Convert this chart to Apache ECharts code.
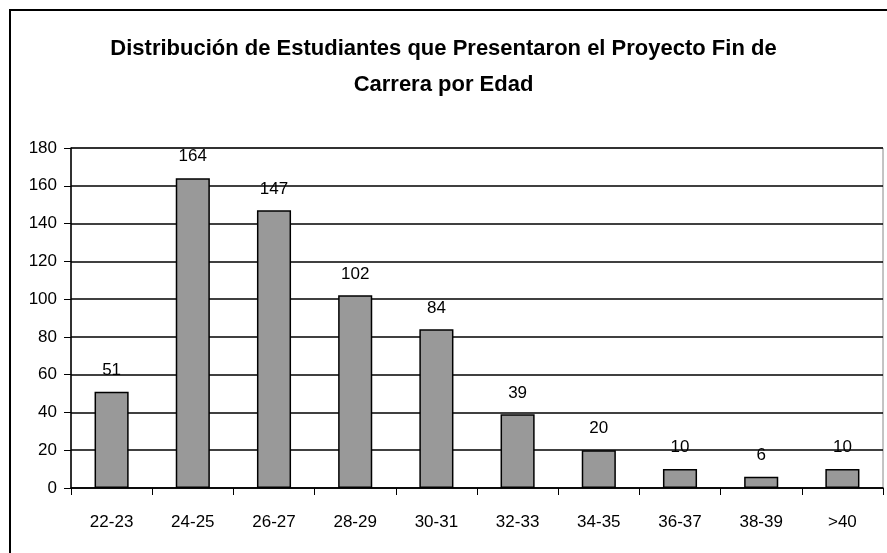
<!DOCTYPE html>
<html>
<head>
<meta charset="utf-8">
<script src="https://cdn.jsdelivr.net/npm/echarts@6/dist/echarts.min.js"></script>
<style>
  html, body { margin: 0; padding: 0; background: #fff; }
  #chart { width: 887px; height: 553px; }
</style>
</head>
<body>
<div id="chart"></div>
<script>
const titleText = 'Distribución de Estudiantes que Presentaron el Proyecto Fin de\nCarrera por Edad'
const ageGroups = ['22-23', '24-25', '26-27', '28-29', '30-31', '32-33', '34-35', '36-37', '38-39', '>40']
const students = [51, 164, 147, 102, 84, 39, 20, 10, 6, 10]

const myChart = echarts.init(document.getElementById('chart'))

const option = {
  animation: false,
  textStyle: { fontFamily: 'Liberation Sans, Arial, sans-serif' },
  graphic: [{
    type: 'rect',
    shape: { x: 10, y: 10, width: 900, height: 600 },
    style: { fill: 'none', stroke: '#000', lineWidth: 2 },
    silent: true
  }],
  title: {
    text: titleText,
    left: 'center',
    top: 26,
    textStyle: {
      fontSize: 22,
      fontWeight: 'bold',
      color: '#000',
      lineHeight: 36,
      fontFamily: 'Liberation Sans, Arial, sans-serif'
    }
  },
  grid: {
    left: 71,
    right: 4,
    top: 148,
    bottom: 65,
    show: true,
    borderColor: '#888',
    borderWidth: 1
  },
  xAxis: {
    type: 'category',
    data: ageGroups,
    axisLine: { lineStyle: { color: '#000', width: 1.5 } },
    axisTick: { show: true, inside: false, length: 7, lineStyle: { color: '#000' } },
    axisLabel: { color: '#000', fontSize: 17, margin: 26 }
  },
  yAxis: {
    type: 'value',
    min: 0,
    max: 180,
    interval: 20,
    axisLine: { show: true, lineStyle: { color: '#000', width: 1.5 } },
    axisTick: { show: true, length: 7, lineStyle: { color: '#000' } },
    axisLabel: { color: '#000', fontSize: 17, margin: 14 },
    splitLine: { lineStyle: { color: '#000', width: 1.5 } }
  },
  series: [{
    type: 'bar',
    data: students,
    barWidth: '42%',
    itemStyle: { color: '#999999', borderColor: '#000', borderWidth: 1.5 },
    label: {
      show: true,
      position: 'top',
      distance: 13,
      color: '#000',
      fontSize: 17
    }
  }]
}

myChart.setOption(option)
</script>
</body>
</html>
